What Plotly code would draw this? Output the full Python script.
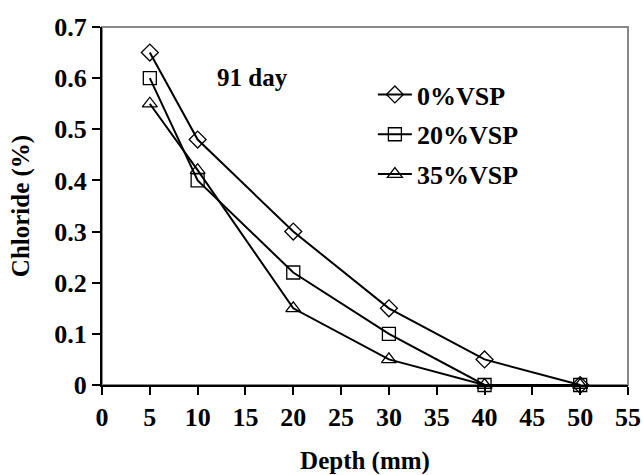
import plotly.graph_objects as go

depth = [5, 10, 20, 30, 40, 50]
vsp0 = [0.65, 0.48, 0.30, 0.15, 0.05, 0.00]
vsp20 = [0.60, 0.40, 0.22, 0.10, 0.00, 0.00]
vsp35 = [0.55, 0.42, 0.15, 0.05, 0.00, 0.00]
series_names = ["0%VSP", "20%VSP", "35%VSP"]
symbols = ["diamond-open", "square-open", "triangle-up-open"]
sizes = [13, 13, 13]
x_ticks = list(range(0, 56, 5))
y_ticks = [0, 0.1, 0.2, 0.3, 0.4, 0.5, 0.6, 0.7]
y_ticktext = ["0", "0.1", "0.2", "0.3", "0.4", "0.5", "0.6", "0.7"]

FONT = "Liberation Serif"
W, H = 643, 475

fig = go.Figure()
for name, vals, sym, sz in zip(series_names, [vsp0, vsp20, vsp35], symbols, sizes):
    fig.add_trace(go.Scatter(
        x=depth, y=vals, name=name, mode="lines+markers", legendgroup=name,
        line=dict(color="black", width=2),
        marker=dict(symbol=sym, size=sz, color="black", line=dict(color="black", width=1.3)),
        cliponaxis=False,
    ))

fig.update_layout(
    width=W, height=H,
    margin=dict(l=102, r=15, t=27, b=90),
    paper_bgcolor="white", plot_bgcolor="white",
    font=dict(family=FONT, size=26, color="black", weight="bold"),
    showlegend=True,
    legend=dict(x=0.515, y=0.877, xanchor="left", yanchor="top",
                bgcolor="rgba(0,0,0,0)", font=dict(size=26, family=FONT, weight="bold", color="black"),
                itemwidth=34, tracegroupgap=3),
    shapes=[dict(type="rect", xref="paper", yref="paper", x0=0, y0=0, x1=1, y1=1,
                 line=dict(color="#888888", width=2), layer="below")],
    annotations=[dict(text="91 day", x=0.215, y=0.86, xref="paper", yref="paper",
                      showarrow=False, xanchor="left", yanchor="middle",
                      font=dict(size=25, family=FONT, weight="bold", color="black"))],
)
fig.update_xaxes(range=[0, 55], tickmode="array", tickvals=x_ticks, automargin=False,
                 showgrid=False, zeroline=False, showline=True, linecolor="black", linewidth=2,
                 ticks="outside", ticklen=8, tickwidth=1.5, tickcolor="black",
                 tickfont=dict(size=26, family=FONT, weight="bold", color="black"),
                 title=dict(text="Depth (mm)", standoff=24,
                            font=dict(size=25, family=FONT, weight="bold", color="black")))
fig.update_yaxes(range=[0, 0.7], tickmode="array", tickvals=y_ticks, ticktext=y_ticktext, automargin=False,
                 showgrid=False, zeroline=False, showline=True, linecolor="black", linewidth=2,
                 ticks="outside", ticklen=8, tickwidth=1.5, tickcolor="black",
                 tickfont=dict(size=26, family=FONT, weight="bold", color="black"),
                 title=dict(text="Chloride (%)", standoff=18,
                            font=dict(size=25, family=FONT, weight="bold", color="black")))

fig.write_html("out.html", config={"displayModeBar": False},
               post_script="document.body.style.margin='0';document.body.style.overflow='hidden';")
